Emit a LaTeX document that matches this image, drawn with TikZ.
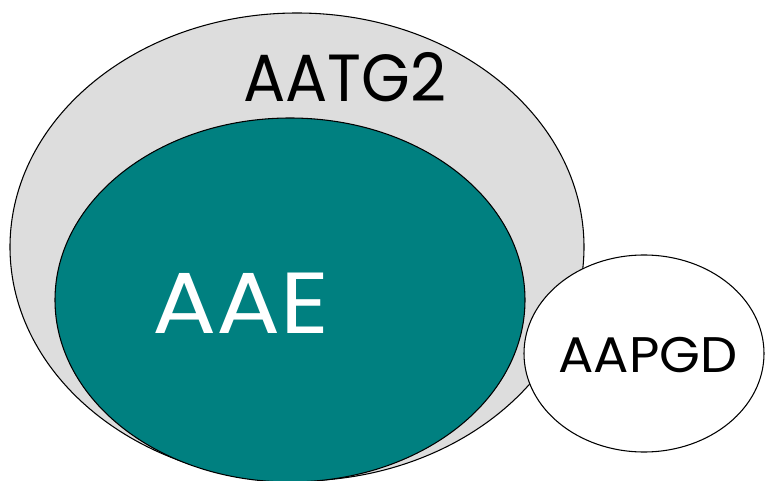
\documentclass[tikz,border=0pt]{standalone}
\usepackage{fontspec}
\usetikzlibrary{shapes.geometric}
\setmainfont{Poppins}
\definecolor{greyfill}{HTML}{DDDDDD}
\definecolor{tealfill}{HTML}{008080}
\begin{document}
\begin{tikzpicture}[x=0.75pt,y=-0.75pt,
  setshape/.style={ellipse, draw=black, line width=0.8pt, inner sep=0pt, outer sep=0pt},
  lbl/.style={inner sep=0pt, anchor=base west}]
\useasboundingbox (0,0) rectangle (765,481);
\fill[white] (0,0) rectangle (765,481);
\node[setshape, fill=greyfill, minimum width=430.5pt, minimum height=351pt] (grey) at (297,247) {};
\node[setshape, fill=tealfill, minimum width=352.5pt, minimum height=273pt] (teal) at (290,300) {};
\node[setshape, fill=white, minimum width=180pt, minimum height=147.75pt] (white) at (644,353.5) {};
\node[lbl, font=\fontsize{50pt}{50pt}\selectfont] (aatg) at (243,102) {\scalebox{0.94}[1]{AATG2}};
\node[lbl, font=\fontsize{65pt}{65pt}\selectfont, text=white] (aae) at (152,334) {\scalebox{1.1}[1]{AAE}};
\node[lbl, font=\fontsize{37.5pt}{37.5pt}\selectfont] (aapgd) at (558,373) {\scalebox{1.05}[1]{AAPGD}};
\end{tikzpicture}
\end{document}
